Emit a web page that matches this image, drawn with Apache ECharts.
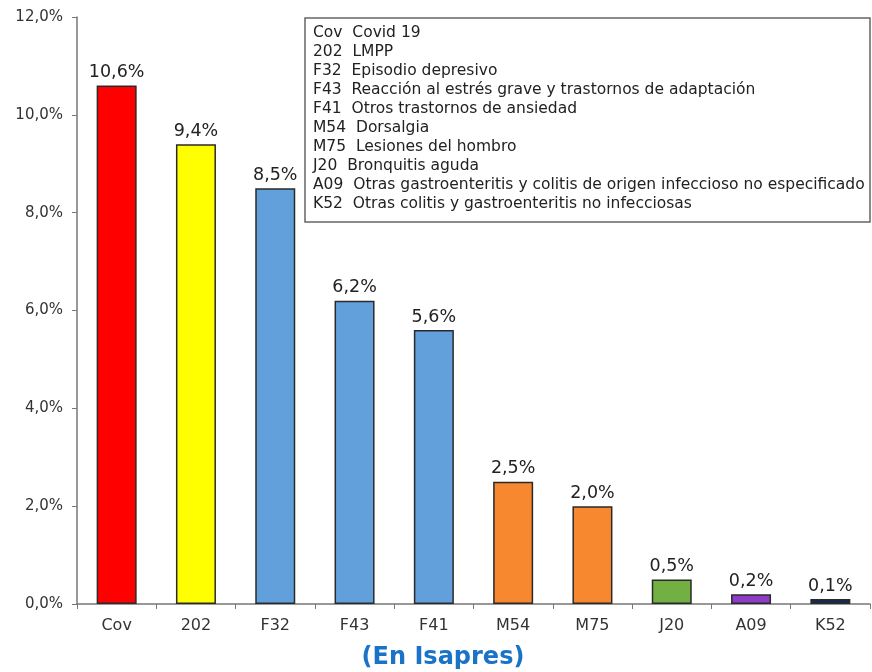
<!DOCTYPE html>
<html><head><meta charset="utf-8">
<script src="https://cdn.jsdelivr.net/npm/echarts@6/dist/echarts.min.js"></script>
<style>html,body{margin:0;padding:0;background:#fff}#c{width:872px;height:672px}</style>
</head><body><div id="c"></div>
<script>
var categories = ['Cov','202','F32','F43','F41','M54','M75','J20','A09','K52'];
var values = [10.6, 9.4, 8.5, 6.2, 5.6, 2.5, 2.0, 0.5, 0.2, 0.1];
var barColors = ['#ff0000','#ffff00','#62a0dc','#62a0dc','#62a0dc','#f7882f','#f7882f','#72b043','#8e3cc8','#14285a'];
var legendLines = [
 'Cov  Covid 19',
 '202  LMPP',
 'F32  Episodio depresivo',
 'F43  Reacción al estrés grave y trastornos de adaptación',
 'F41  Otros trastornos de ansiedad',
 'M54  Dorsalgia',
 'M75  Lesiones del hombro',
 'J20  Bronquitis aguda',
 'A09  Otras gastroenteritis y colitis de origen infeccioso no especificado',
 'K52  Otras colitis y gastroenteritis no infecciosas'
];
var titleText = '(En Isapres)';

var chart = echarts.init(document.getElementById('c'));
var font = 'Verdana, "DejaVu Sans", sans-serif';
chart.setOption({
  animation: false,
  grid: {left: 77, right: 2, top: 17, bottom: 68},
  xAxis: {type: 'category', data: categories,
    axisLine: {lineStyle: {color: '#777', width: 1.5}},
    axisTick: {show: true, lineStyle: {color: '#777'}, length: 5},
    axisLabel: {color: '#333', fontSize: 16, fontFamily: font, margin: 14}},
  yAxis: {type: 'value', min: 0, max: 12, interval: 2,
    axisLine: {show: true, lineStyle: {color: '#777', width: 1.5}},
    axisTick: {show: true, inside: false, length: 5, lineStyle: {color: '#777'}},
    splitLine: {show: false},
    axisLabel: {color: '#333', fontSize: 15, fontFamily: font, margin: 14,
      formatter: function(v){return v.toFixed(1).replace('.', ',') + '%';}}},
  series: [{type: 'bar', barWidth: 40,
    data: values.map(function(v,i){return {value: v, itemStyle: {color: barColors[i]}};}),
    itemStyle: {borderColor: '#2a2a2a', borderWidth: 1.5},
    label: {show: true, position: 'top', distance: 4, color: '#222', fontSize: 17.5, fontFamily: font,
      formatter: function(p){return p.value.toFixed(1).replace('.', ',') + '%';}}
  }],
  graphic: [
    {type: 'rect', shape: {x: 305, y: 18, width: 565, height: 204},
     style: {fill: '#fff', stroke: '#666', lineWidth: 1.5}, z: 10},
    {type: 'text', left: 313, top: 23, z: 11,
     style: {text: legendLines.join('\n'), fill: '#222', fontSize: 15.5, lineHeight: 19, fontFamily: font}},
    {type: 'text', x: 443, y: 658, z: 11,
     style: {text: titleText, fill: '#1a73c6', fontSize: 24, fontWeight: 'bold', fontFamily: font,
       textAlign: 'center', textVerticalAlign: 'middle'}}
  ]
});
</script></body></html>
